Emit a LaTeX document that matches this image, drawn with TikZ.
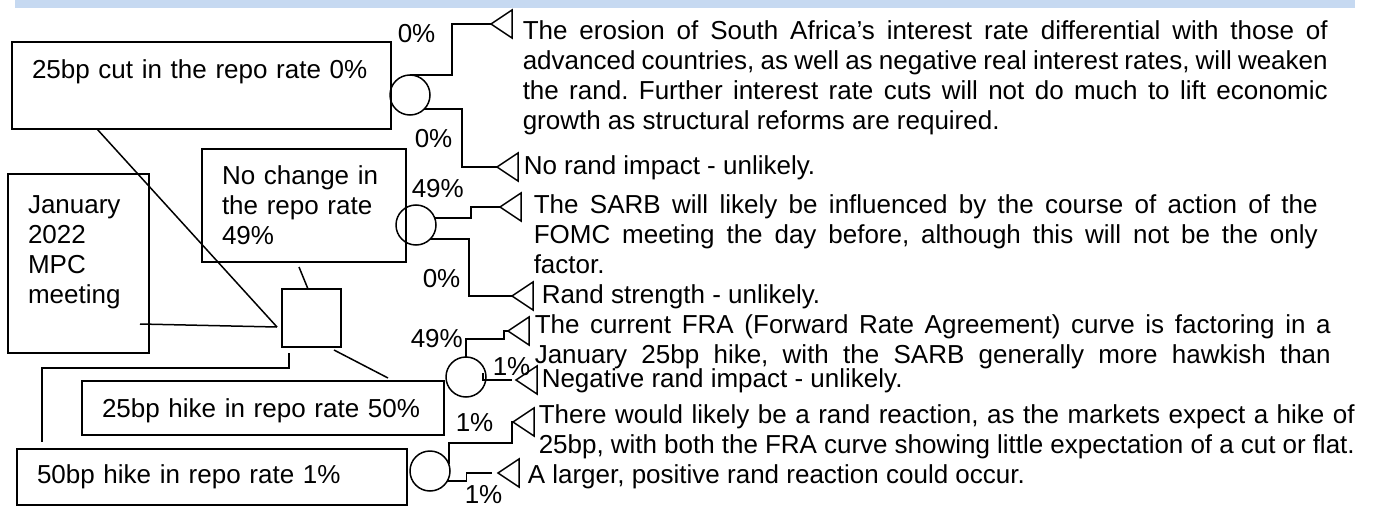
\documentclass[tikz,border=0pt]{standalone}
\usepackage{fontspec}
\setmainfont{Liberation Sans}
\usepackage{tikz}
\usetikzlibrary{calc}
\usetikzlibrary{positioning}
\definecolor{bandblue}{RGB}{198,217,241}
\tikzstyle{rbox} = [draw,anchor=north west,align=left,inner xsep=20pt,inner ysep=0pt,outer sep=0pt]
\tikzstyle{chance} = [draw,circle,minimum size=40pt,inner sep=0pt,outer sep=0pt]
\tikzstyle{txt} = [anchor=base west,inner sep=0pt,align=justify]
\tikzstyle{pct} = [anchor=base west,inner sep=0pt]
\tikzset{tipmark/.pic={\draw (0,0) -- (21,-14) -- (21,14) -- cycle;}}
\newcommand{\jl}[1]{\makebox[\linewidth][s]{#1}}
\frenchspacing

\begin{document}
\begin{tikzpicture}[x=1pt,y=-1pt,line width=1.5pt,font=\fontsize{26}{30}\selectfont]
    \useasboundingbox (0,0) rectangle (1381,508);
    \clip (0,0) rectangle (1381,508);
    \fill[bandblue] (15,0) rectangle (1355,8);
    % decision boxes
   	\node[rbox,text width=339pt,text height=37pt,text depth=50pt] (b_cut) at (12,42) {25bp cut in the repo rate 0\%};
   	\node[rbox,text width=164pt,text height=35pt,text depth=78pt] (b_hold) at (202,149) {No change in\\the repo rate\\49\%};
   	\node[rbox,text width=101pt,text height=39pt,text depth=140pt] (b_mpc) at (8,174) {January\\2022\\MPC\\meeting};
   	\node[rbox,text width=322pt,text height=36pt,text depth=18pt] (b_hike) at (82,381) {25bp hike in repo rate 50\%};
   	\node[rbox,text width=350pt,text height=34pt,text depth=22pt] (b_hike50) at (17,449) {50bp hike in repo rate 1\%};
   	\node[draw,minimum width=59pt,minimum height=58pt,inner sep=0pt,outer sep=0pt] (d_0) at (311.5,318) {};
    \draw ($(b_cut.south west)+(85,0)$) -- ($(d_0.west)+(-5,9)$);
    \draw ($(b_mpc.east)+(-9,60.5)$) -- ($(d_0.west)+(-5,9)$);
    \draw ($(b_hold.south)+(-5,5)$) -- ($(d_0.north)+(-3.5,0)$);
    \draw ($(d_0.south east)+(-7,3)$) -- ($(b_hike.north east)+(-56,-3)$);
    \draw ($(d_0.south west)+(7,6)$) -- ++(0,15) -| ($(b_hike50.north west)+(25,-7)$);
    % chance nodes and end points
   	\node[chance] (c_cut) at (410,95) {};
   	\node[chance] (c_hold) at (416,225) {};
   	\node[chance] (c_hike) at (466,377) {};
   	\node[chance] (c_hike50) at (430,471) {};
    \coordinate (t_1) at (491,24);
    \coordinate (t_2) at (497,167);
    \coordinate (t_3) at (500,207);
    \coordinate (t_4) at (512,296);
    \coordinate (t_5) at (508,331);
    \coordinate (t_6) at (516,380);
    \coordinate (t_7) at (513,422);
    \coordinate (t_8) at (498,473);
    \foreach \t in {t_1,t_2,t_3,t_4,t_5,t_6,t_7,t_8}
        \pic at (\t) {tipmark};
    \draw (c_cut.north) -- ++(42,0) |- (t_1);
    \draw (c_cut.-45) -- ++(38,0) |- (t_2);
    \draw (c_hold.20) -- ++(36,0) |- (t_3);
    \draw (c_hold.-45) -- ++(39,0) |- (t_4);
    \draw (c_hike.north) -- ++(0,-18) -- ++(38,0) |- (t_5);
    \draw ($(c_hike.center)+(17,-4)$) |- ($(t_6)+(-4,0)$);
    \draw (c_hike50.20) |- ($(t_7)+(-1,21)$) |- (t_7);
    \draw[shorten >=6pt] (c_hike50.-30) -- ++(19,0) |- (t_8);
    % probabilities
    \node[pct] (p_1) at (397,43) {0\%};
    \node[pct] (p_2) at (414,147) {0\%};
    \node[pct] (p_3) at (411,197) {49\%};
    \node[pct] (p_4) at (422,287) {0\%};
    \node[pct] (p_5) at (410,347) {49\%};
    \node[pct] (p_6) at (492,375) {1\%};
    \node[pct] (p_7) at (455,431) {1\%};
    \node[pct] (p_8) at (464,503) {1\%};
    % outcome texts
    \node[txt,text width=805pt] (x_1) at (522,40) {\jl{The erosion of South Africa’s interest rate differential with those of}\\
        \jl{advanced countries, as well as negative real interest rates, will weaken}\\
        \jl{the rand. Further interest rate cuts will not do much to lift economic}\\
        growth as structural reforms are required.};
    \node[pct] (x_2) at (523,174) {No rand impact - unlikely.};
    \node[txt,text width=784pt] (x_3) at (533,213) {\jl{The SARB will likely be influenced by the course of action of the}\\
        \jl{FOMC meeting the day before, although this will not be the only}\\
        factor.};
    \node[pct] (x_4) at (541,303) {Rand strength - unlikely.};
    \node[txt,text width=796pt] (x_5) at (534,333) {\jl{The current FRA (Forward Rate Agreement) curve is factoring in a}\\
        \jl{January 25bp hike, with the SARB generally more hawkish than}};
    \node[pct] (x_6) at (541,387) {Negative rand impact - unlikely.};
    \node[txt,text width=816pt] (x_7) at (538,423) {\jl{There would likely be a rand reaction, as the markets expect a hike of}\\
        25bp, with both the FRA curve showing little expectation of a cut or flat.};
    \node[pct] (x_8) at (527,483) {A larger, positive rand reaction could occur.};
\end{tikzpicture}
\end{document}
